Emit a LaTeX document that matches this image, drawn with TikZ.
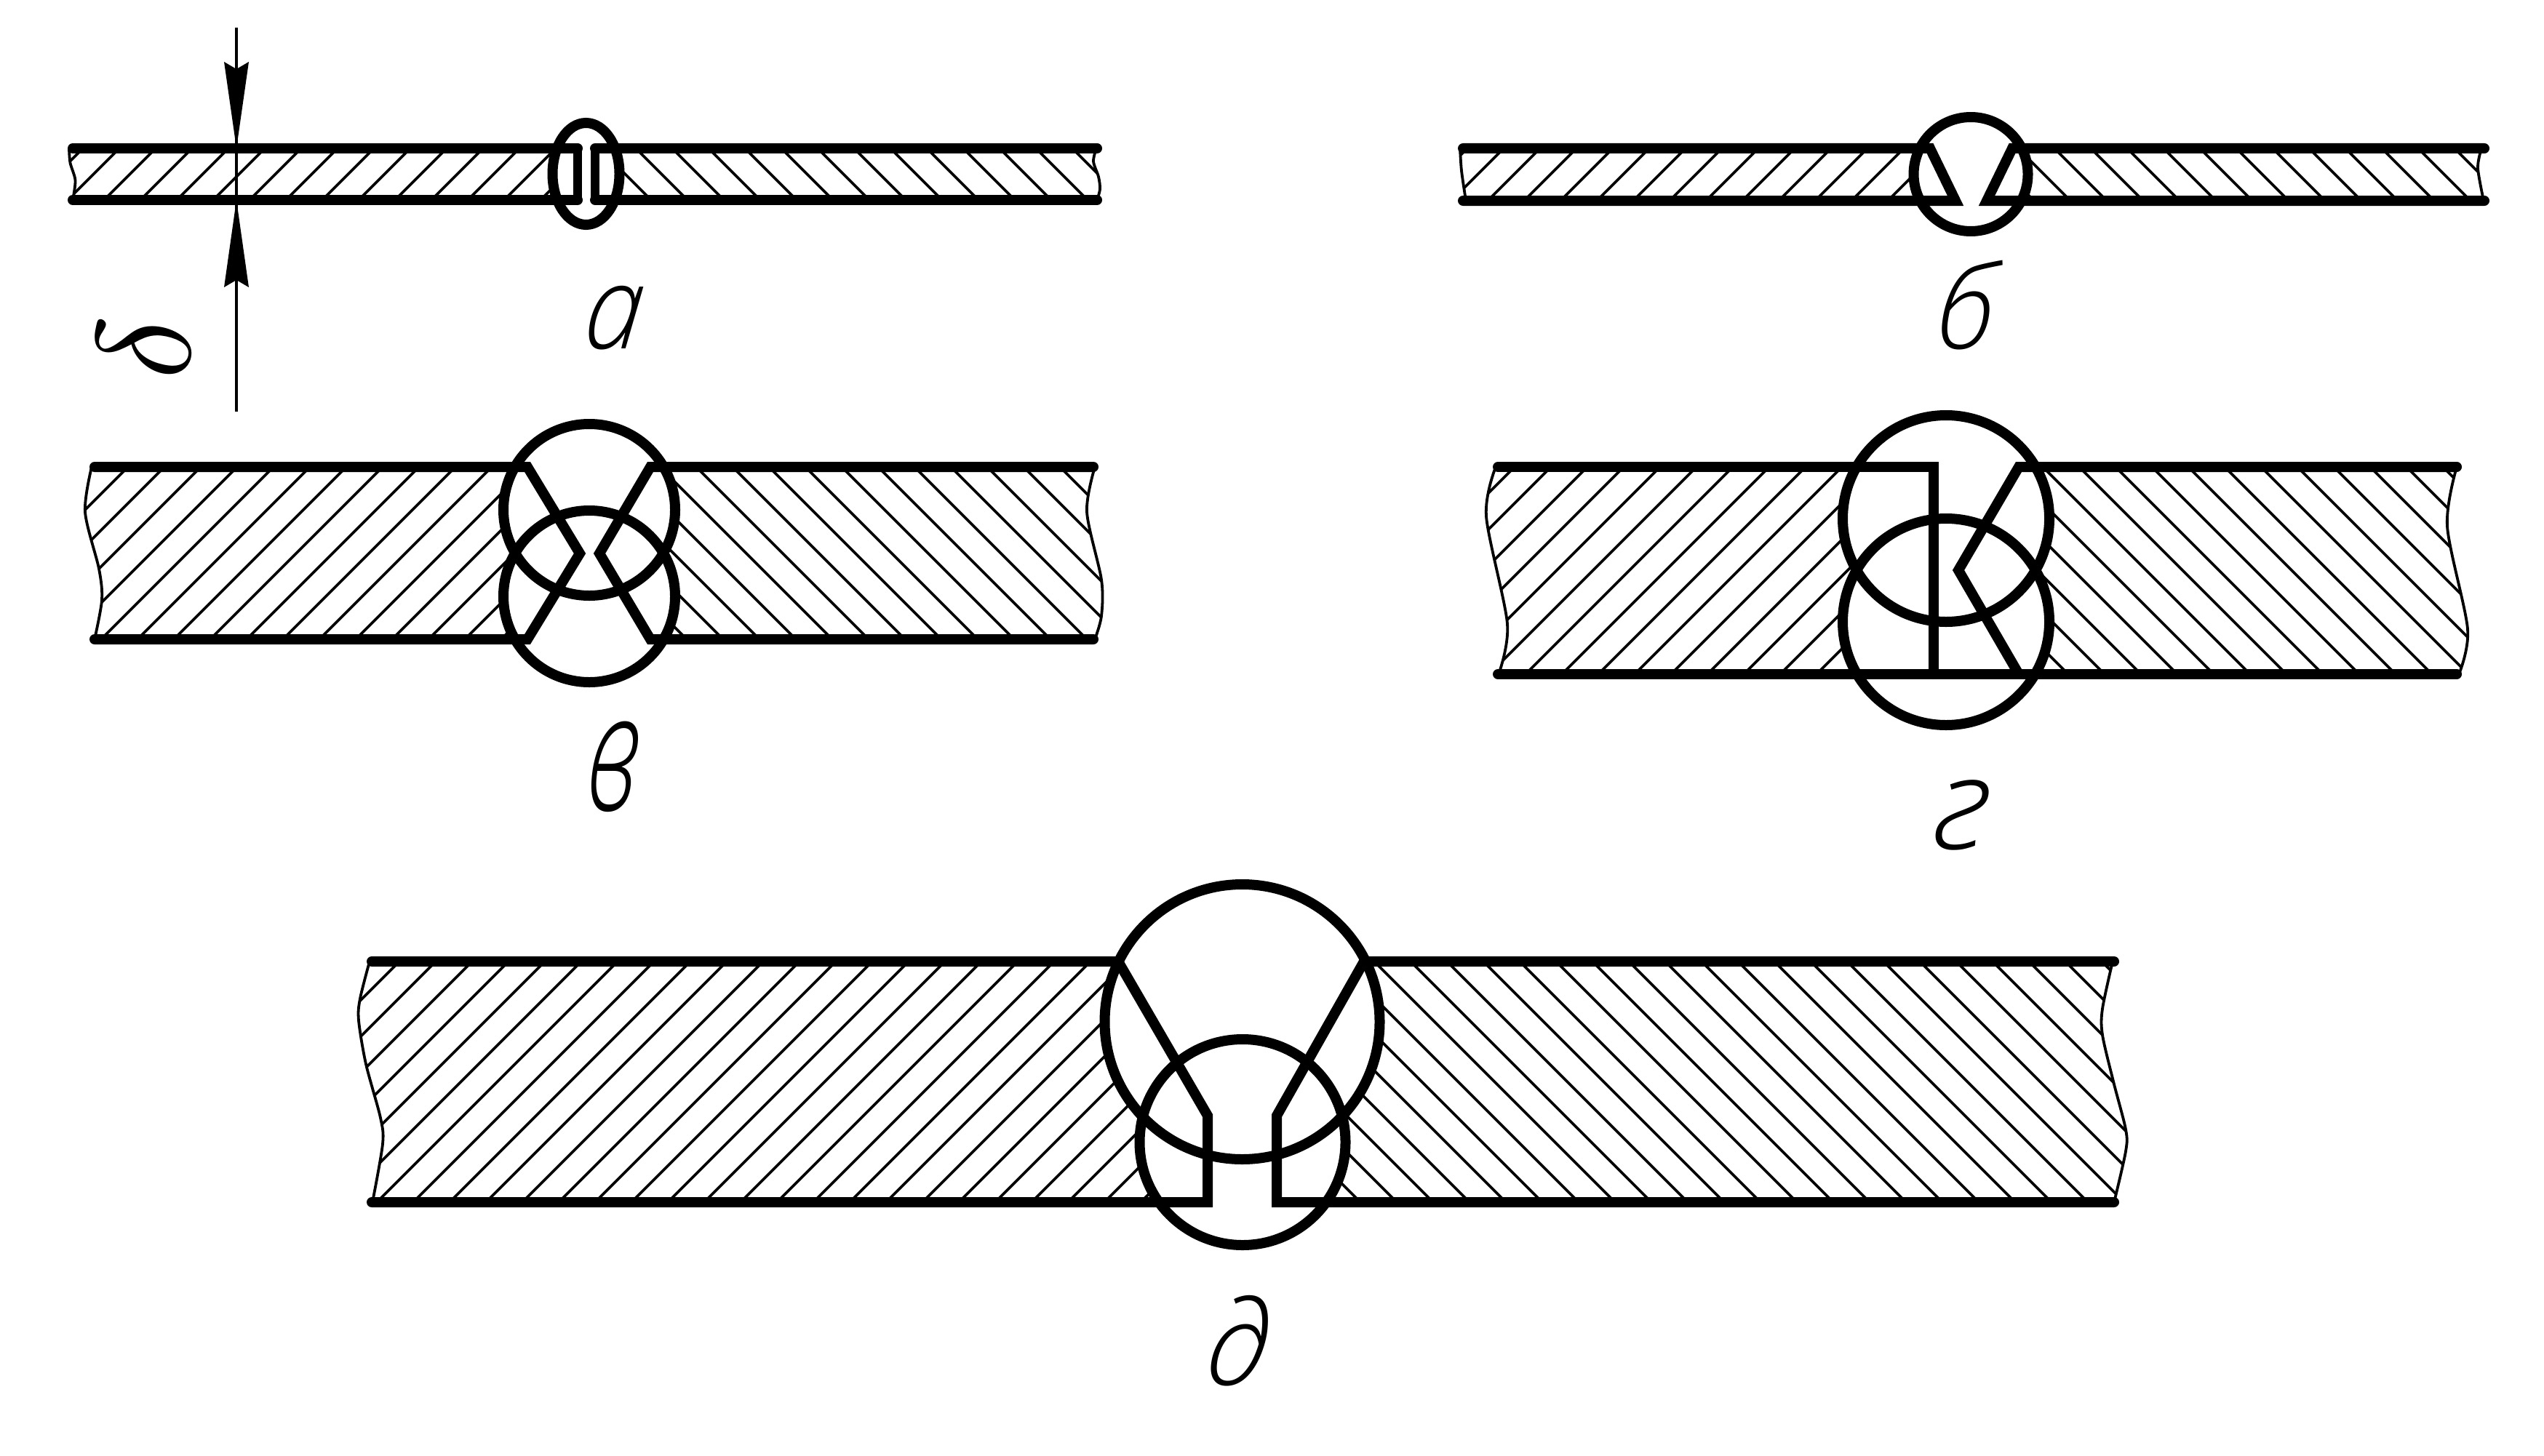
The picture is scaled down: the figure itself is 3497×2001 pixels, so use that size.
\documentclass[tikz,border=0pt]{standalone}
\usepackage{fontspec}
\newfontfamily\lab{Open Sans Light}[ItalicFont={Open Sans Light Italic}]
\newcommand{\hatchL}[4]{\foreach \c in {#1,#2,...,#3}{\draw[hatchline] ({\c-#4},#4) -- ({\c-#4-400},#4+400);}}
\newcommand{\hatchR}[4]{\foreach \c in {#1,#2,...,#3}{\draw[hatchline] ({\c+#4},#4) -- ({\c+#4+400},#4+400);}}
\tikzset{
  outline/.style={line width=3.5pt,line cap=round,line join=miter,black},
  slimedge/.style={line width=2.8pt,line cap=round,black},
  ring/.style={line width=3.5pt,black},
  mask/.style={fill=white,draw=none},
  hatchline/.style={line width=0.95pt,black},
  wave/.style={line width=0.95pt,black},
  dimline/.style={line width=0.9pt,black},
  letter/.style={font=\lab\itshape\fontsize{40}{40}\selectfont,inner sep=0pt,outer sep=0pt,xslant=0.1,transform shape,black}
}
\begin{document}
\begin{tikzpicture}[x=0.25pt,y=-0.25pt]
\useasboundingbox (0,0) rectangle (3497,2001);
% ---------- panel a
\begin{scope}
\clip plot[smooth] coordinates {(95,204) (96.5,224) (103.5,248) (100,275)} -- (805,275) -- (805,204) -- cycle;
\hatchL{318}{368}{1118}{204}
\end{scope}
\begin{scope}
\clip plot[smooth] coordinates {(1507,204) (1503,222) (1510,243) (1512,260) (1508,275)} -- (805,275) -- (805,204) -- cycle;
\hatchR{520}{570}{1320}{204}
\end{scope}
\fill[mask] (805.5,239) ellipse [x radius=46,y radius=70];
\draw[wave] plot[smooth] coordinates {(95,204) (96.5,224) (103.5,248) (100,275)};
\draw[wave] plot[smooth] coordinates {(1507,204) (1503,222) (1510,243) (1512,260) (1508,275)};
\draw[ring] (805.5,239) ellipse [x radius=46,y radius=70];
\draw[outline] (100,204) -- (794,204);
\draw[outline] (100,275) -- (794,275);
\draw[slimedge] (794,204) -- (794,275);
\draw[outline] (1508,204) -- (818,204);
\draw[outline] (1508,275) -- (818,275);
\draw[slimedge] (818,204) -- (818,275);
% dimension
\draw[dimline] (325,38) -- (325,566);
\fill (325,204) -- (342,85) -- (325,95) -- (308,85) -- cycle;
\fill (325,275) -- (342,395) -- (325,385) -- (308,395) -- cycle;
\node[inner sep=0pt,transform shape,rotate=90,scale=4.6] (delta) at (198,478) {$\delta$};
\node[letter,xscale=0.9] (la) at (845,437) {а};
% ---------- panel b
\begin{scope}
\clip plot[smooth] coordinates {(2007,204) (2009,235) (2015,276)} -- (2709,276) -- (2709,204) -- cycle;
\hatchL{2221}{2271}{3021}{204}
\end{scope}
\begin{scope}
\clip plot[smooth] coordinates {(3411,204) (3406,231) (3414,276)} -- (2709,276) -- (2709,204) -- cycle;
\hatchR{2420}{2470}{3220}{204}
\end{scope}
\fill[mask] (2709,239.5) circle (78.5);
\draw[wave] plot[smooth] coordinates {(2007,204) (2009,235) (2015,276)};
\draw[wave] plot[smooth] coordinates {(3411,204) (3406,231) (3414,276)};
\draw[ring] (2709,239.5) circle (78.5);
\draw[outline] (2011,204) -- (2653,204) -- (2688,276) -- (2011,276);
\draw[outline] (3415,204) -- (2766,204) -- (2731,276) -- (3415,276);
\node[letter,xscale=0.95] (lb) at (2705,420) {б};
% ---------- panel v
\begin{scope}
\clip plot[smooth] coordinates {(126,642) (117,704) (136,782) (140,825) (130,879)} -- (810,879) -- (810,642) -- cycle;
\hatchL{768}{818}{1718}{642}
\end{scope}
\begin{scope}
\clip plot[smooth] coordinates {(1505,642) (1494,704) (1514,797) (1514,847) (1505,879)} -- (810,879) -- (810,642) -- cycle;
\hatchR{-85}{-35}{915}{642}
\end{scope}
\fill[mask] (810,701) circle (118);
\fill[mask] (810,820) circle (118);
\draw[wave] plot[smooth] coordinates {(126,642) (117,704) (136,782) (140,825) (130,879)};
\draw[wave] plot[smooth] coordinates {(1505,642) (1494,704) (1514,797) (1514,847) (1505,879)};
\draw[ring] (810,701) circle (118);
\draw[ring] (810,820) circle (118);
\draw[outline] (130,642) -- (725,642) -- (797,761) -- (725,879) -- (130,879);
\draw[outline] (1503,642) -- (894,642) -- (824,761) -- (894,879) -- (1503,879);
\node[letter,yscale=1.42,xscale=0.85] (lv) at (844,1054) {в};
% ---------- panel g
\begin{scope}
\clip plot[smooth] coordinates {(2056,642) (2043,710) (2072,858) (2060,927)} -- (2675,927) -- (2675,642) -- cycle;
\hatchL{2674}{2724}{3624}{642}
\end{scope}
\begin{scope}
\clip plot[smooth] coordinates {(3377,642) (3364,724) (3392,865) (3380,927)} -- (2675,927) -- (2675,642) -- cycle;
\hatchR{1716}{1766}{2766}{642}
\end{scope}
\fill[mask] (2675,713) circle (142);
\fill[mask] (2675,855) circle (142);
\draw[wave] plot[smooth] coordinates {(2056,642) (2043,710) (2072,858) (2060,927)};
\draw[wave] plot[smooth] coordinates {(3377,642) (3364,724) (3392,865) (3380,927)};
\draw[ring] (2675,713) circle (142);
\draw[ring] (2675,855) circle (142);
\draw[outline] (2059,642) -- (2658,642) -- (2658,927);
\draw[outline] (2059,927) -- (3377,927);
\draw[outline] (3377,642) -- (2775,642) -- (2692,784) -- (2775,927);
\node[letter,xscale=1.1,yscale=1.1] (lg) at (2696,1121) {г};
% ---------- panel d
\begin{scope}
\clip plot[smooth] coordinates {(508,1322) (495,1373) (493,1403) (503,1463) (523,1537) (526,1573) (512,1653)} -- (1708,1653) -- (1708,1322) -- cycle;
\hatchL{1771}{1821}{3371}{1322}
\end{scope}
\begin{scope}
\clip plot[smooth] coordinates {(2904,1322) (2890,1387) (2890,1423) (2905,1487) (2922,1553) (2922,1583) (2906,1653)} -- (1708,1653) -- (1708,1322) -- cycle;
\hatchR{17}{67}{1617}{1322}
\end{scope}
\fill[mask] (1707.5,1405) circle (189);
\fill[mask] (1708,1570.5) circle (141.5);
\draw[wave] plot[smooth] coordinates {(508,1322) (495,1373) (493,1403) (503,1463) (523,1537) (526,1573) (512,1653)};
\draw[wave] plot[smooth] coordinates {(2904,1322) (2890,1387) (2890,1423) (2905,1487) (2922,1553) (2922,1583) (2906,1653)};
\draw[ring] (1707.5,1405) circle (189);
\draw[ring] (1708,1570.5) circle (141.5);
\draw[outline] (511,1322) -- (1537,1322) -- (1660,1534) -- (1660,1653) -- (511,1653);
\draw[outline] (2906,1322) -- (1875,1322) -- (1755,1534) -- (1755,1653) -- (2906,1653);
\node[letter] (ld) at (1704,1844) {д};
\end{tikzpicture}
\end{document}
